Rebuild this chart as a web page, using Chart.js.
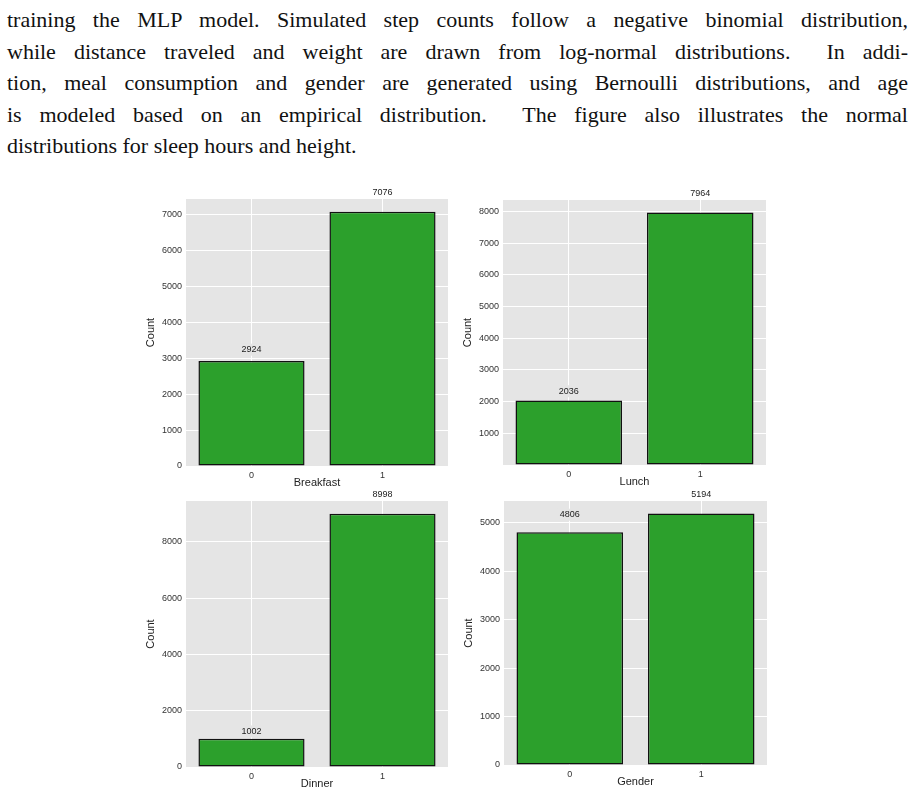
<!DOCTYPE html>
<html>
<head>
<meta charset="utf-8">
<script src="https://cdn.jsdelivr.net/npm/chart.js@4.4.1/dist/chart.umd.min.js"></script>
<style>
  html, body { margin: 0; padding: 0; background: #fff; }
  body { width: 915px; height: 794px; position: relative; overflow: hidden; }
  #text {
    position: absolute; left: 7px; top: 4px; width: 901px;
    font-family: "Liberation Serif", "DejaVu Serif", serif;
    font-size: 22px; line-height: 31.5px; color: #111;
  }
  #text .line { text-align: justify; text-align-last: justify; white-space: nowrap; }
  #text .line.last { text-align-last: left; }
  canvas { position: absolute; }
</style>
</head>
<body>
<div id="text">
  <div class="line">training the MLP model. Simulated step counts follow a negative binomial distribution,</div>
  <div class="line">while distance traveled and weight are drawn from log-normal distributions. &nbsp;In addi-</div>
  <div class="line">tion, meal consumption and gender are generated using Bernoulli distributions, and age</div>
  <div class="line">is modeled based on an empirical distribution. &nbsp;The figure also illustrates the normal</div>
  <div class="line last">distributions for sleep hours and height.</div>
</div>
<canvas id="c1"></canvas>
<canvas id="c2"></canvas>
<canvas id="c3"></canvas>
<canvas id="c4"></canvas>
<script>
// Bar chart data, one array per panel
const categories = ['0', '1'];
const breakfastCounts = [2924, 7076];
const lunchCounts = [2036, 7964];
const dinnerCounts = [1002, 8998];
const genderCounts = [4806, 5194];
const panelTitles = ['Breakfast', 'Lunch', 'Dinner', 'Gender'];

// y tick values per panel
const breakfastTicks = [0, 1000, 2000, 3000, 4000, 5000, 6000, 7000];
const lunchTicks = [0, 1000, 2000, 3000, 4000, 5000, 6000, 7000, 8000];
const dinnerTicks = [0, 2000, 4000, 6000, 8000];
const genderTicks = [0, 1000, 2000, 3000, 4000, 5000];

const FONT = '"Liberation Sans", Helvetica, Arial, sans-serif';
const BAR_GREEN = '#2ca02c';
const PANEL_BG = '#e5e5e5';

// plot area of each panel in page pixels
const panels = [
  { id: 'c1', data: breakfastCounts, ticks: breakfastTicks, left: 186, top: 199, w: 262, h: 267 },
  { id: 'c2', data: lunchCounts,     ticks: lunchTicks,     left: 503, top: 200, w: 263, h: 265, hideZero: true },
  { id: 'c3', data: dinnerCounts,    ticks: dinnerTicks,    left: 186, top: 501, w: 262, h: 266 },
  { id: 'c4', data: genderCounts,    ticks: genderTicks,    left: 504, top: 501, w: 263, h: 264 }
];

const Y_AXIS_W = 46, X_AXIS_H = 30, PAD_TOP = 24, PAD_RIGHT = 6;

// gray panel background behind the bars
const panelBackground = {
  id: 'panelBackground',
  beforeDraw(chart) {
    const { ctx, chartArea: a } = chart;
    ctx.save();
    ctx.fillStyle = PANEL_BG;
    ctx.fillRect(a.left, a.top, a.right - a.left, a.bottom - a.top);
    ctx.restore();
  }
};

// count printed above each bar, with a gray box hiding the grid
const valueLabels = {
  id: 'valueLabels',
  afterDatasetsDraw(chart) {
    const { ctx, chartArea: a } = chart;
    const meta = chart.getDatasetMeta(0);
    const yScale = chart.scales.y;
    ctx.save();
    ctx.font = '9px ' + FONT;
    ctx.textAlign = 'center';
    ctx.textBaseline = 'middle';
    meta.data.forEach((bar, i) => {
      const v = chart.data.datasets[0].data[i];
      const txt = String(v);
      const y = yScale.getPixelForValue(v * 1.05) - 6;
      const tw = ctx.measureText(txt).width;
      ctx.save();
      ctx.beginPath();
      ctx.rect(a.left, a.top, a.right - a.left, a.bottom - a.top);
      ctx.clip();
      ctx.fillStyle = PANEL_BG;
      ctx.fillRect(bar.x - tw / 2 - 2, y - 6, tw + 4, 12);
      ctx.restore();
      ctx.fillStyle = '#222';
      ctx.fillText(txt, bar.x, y);
    });
    ctx.restore();
  }
};

panels.forEach((p, idx) => {
  const canvas = document.getElementById(p.id);
  const cw = p.w + Y_AXIS_W + PAD_RIGHT;
  const ch = p.h + PAD_TOP + X_AXIS_H;
  canvas.width = cw;
  canvas.height = ch;
  canvas.style.width = cw + 'px';
  canvas.style.height = ch + 'px';
  canvas.style.left = (p.left - Y_AXIS_W) + 'px';
  canvas.style.top = (p.top - PAD_TOP) + 'px';

  new Chart(canvas, {
    type: 'bar',
    data: {
      labels: categories,
      datasets: [{
        data: p.data,
        backgroundColor: BAR_GREEN,
        borderColor: '#111',
        borderWidth: 1.5,
        borderSkipped: false,
        barPercentage: 0.81,
        categoryPercentage: 1.0
      }]
    },
    options: {
      responsive: false,
      animation: false,
      layout: { padding: { top: PAD_TOP, right: PAD_RIGHT, left: 0, bottom: 0 } },
      plugins: { legend: { display: false }, tooltip: { enabled: false } },
      scales: {
        x: {
          offset: true,
          grid: { offset: false, color: '#ffffff', lineWidth: 1, drawTicks: false },
          border: { display: false },
          ticks: { color: '#333', font: { family: FONT, size: 9 }, padding: 4 },
          title: {
            display: true, text: panelTitles[idx], color: '#222',
            font: { family: FONT, size: 11 }, padding: { top: 0, bottom: 6 }
          },
          afterFit(scale) { scale.height = X_AXIS_H; }
        },
        y: {
          min: 0,
          max: Math.max(...p.data) * 1.05,
          grid: { color: '#ffffff', lineWidth: 1, drawTicks: false },
          border: { display: false },
          ticks: {
            autoSkip: false,
            color: '#333',
            font: { family: FONT, size: 9 },
            padding: 4,
            callback: (v) => (p.hideZero && v === 0) ? '' : String(v)
          },
          title: {
            display: true, text: 'Count', color: '#222',
            font: { family: FONT, size: 11 }, padding: { top: 4, bottom: 0 }
          },
          afterBuildTicks(scale) {
            scale.ticks = p.ticks.map(v => ({ value: v }));
          },
          afterFit(scale) { scale.width = Y_AXIS_W; }
        }
      }
    },
    plugins: [panelBackground, valueLabels]
  });
});
</script>
</body>
</html>
